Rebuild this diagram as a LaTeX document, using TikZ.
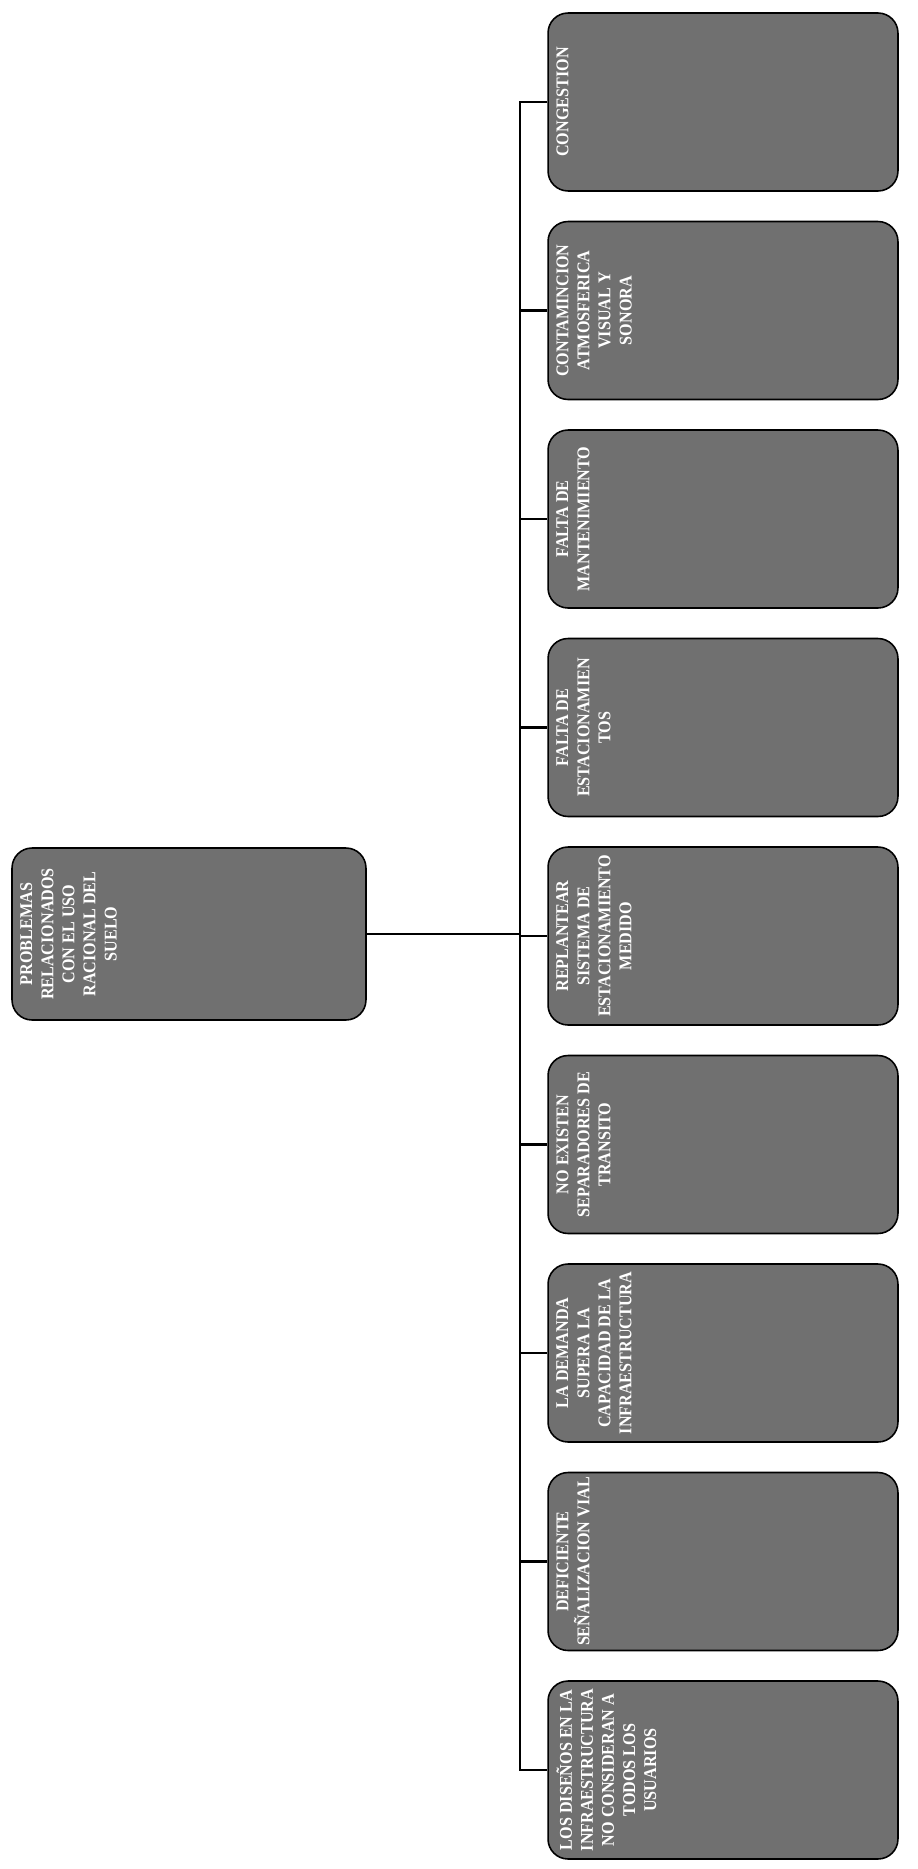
\documentclass[tikz,border=0pt]{standalone}
\usepackage{fontspec}
\setmainfont{Liberation Serif}[FakeStretch=0.9]
\usetikzlibrary{positioning}
\definecolor{piedra}{RGB}{112,112,112}

\tikzset{
  caja/.style={draw=black,line width=0.9pt,fill=piedra,rounded corners=0.4cm,rotate=90,
    minimum width=3.56cm,minimum height=7cm},
  rotulo/.style={rotate=90,anchor=north,text=white,align=center,inner sep=5pt,
    font=\bfseries\fontsize{10.2}{12}\selectfont},
  linea/.style={line width=1.6pt}
}

\begin{document}
\begin{tikzpicture}[x=0.02cm,y=-0.02cm]
  \useasboundingbox (0,0) rectangle (917,1869);
  % raiz
  \node[caja,minimum width=3.44cm,minimum height=7.08cm] (raiz) at (189,934) {};
  \node[rotulo] (traiz) at (raiz.north) {PROBLEMAS\\RELACIONADOS\\CON EL USO\\RACIONAL DEL\\SUELO};
  % problemas
  \foreach \t [count=\i] in {
      CONGESTION,
      CONTAMINCION\\ATMOSFERICA\\VISUAL Y\\SONORA,
      FALTA DE\\MANTENIMIENTO,
      FALTA DE\\ESTACIONAMIEN\\TOS,
      REPLANTEAR\\SISTEMA DE\\ESTACIONAMIENTO\\MEDIDO,
      NO EXISTEN\\SEPARADORES DE\\TRANSITO,
      LA DEMANDA\\SUPERA LA\\CAPACIDAD DE LA\\INFRAESTRUCTURA,
      DEFICIENTE\\SEÑALIZACION VIAL,
      LOS DISEÑOS EN LA\\INFRAESTRUCTURA\\NO CONSIDERAN A\\TODOS LOS\\USUARIOS}
    {
      \pgfmathsetmacro{\y}{102+(\i-1)*208.5}
      \node[caja] (p\i) at (723,\y) {};
      \node[rotulo] (t\i) at (p\i.north) {\t};
    }
  \coordinate (bus) at (520,0);
  \draw[linea] (p1.north) -- (p1.north -| bus) -- (p9.north -| bus) -- (p9.north);
  \foreach \i in {2,...,8}
    \draw[linea] (p\i.north -| bus) -- (p\i.north);
  \draw[linea] (raiz.south) -- (raiz.south -| bus);
\end{tikzpicture}
\end{document}
